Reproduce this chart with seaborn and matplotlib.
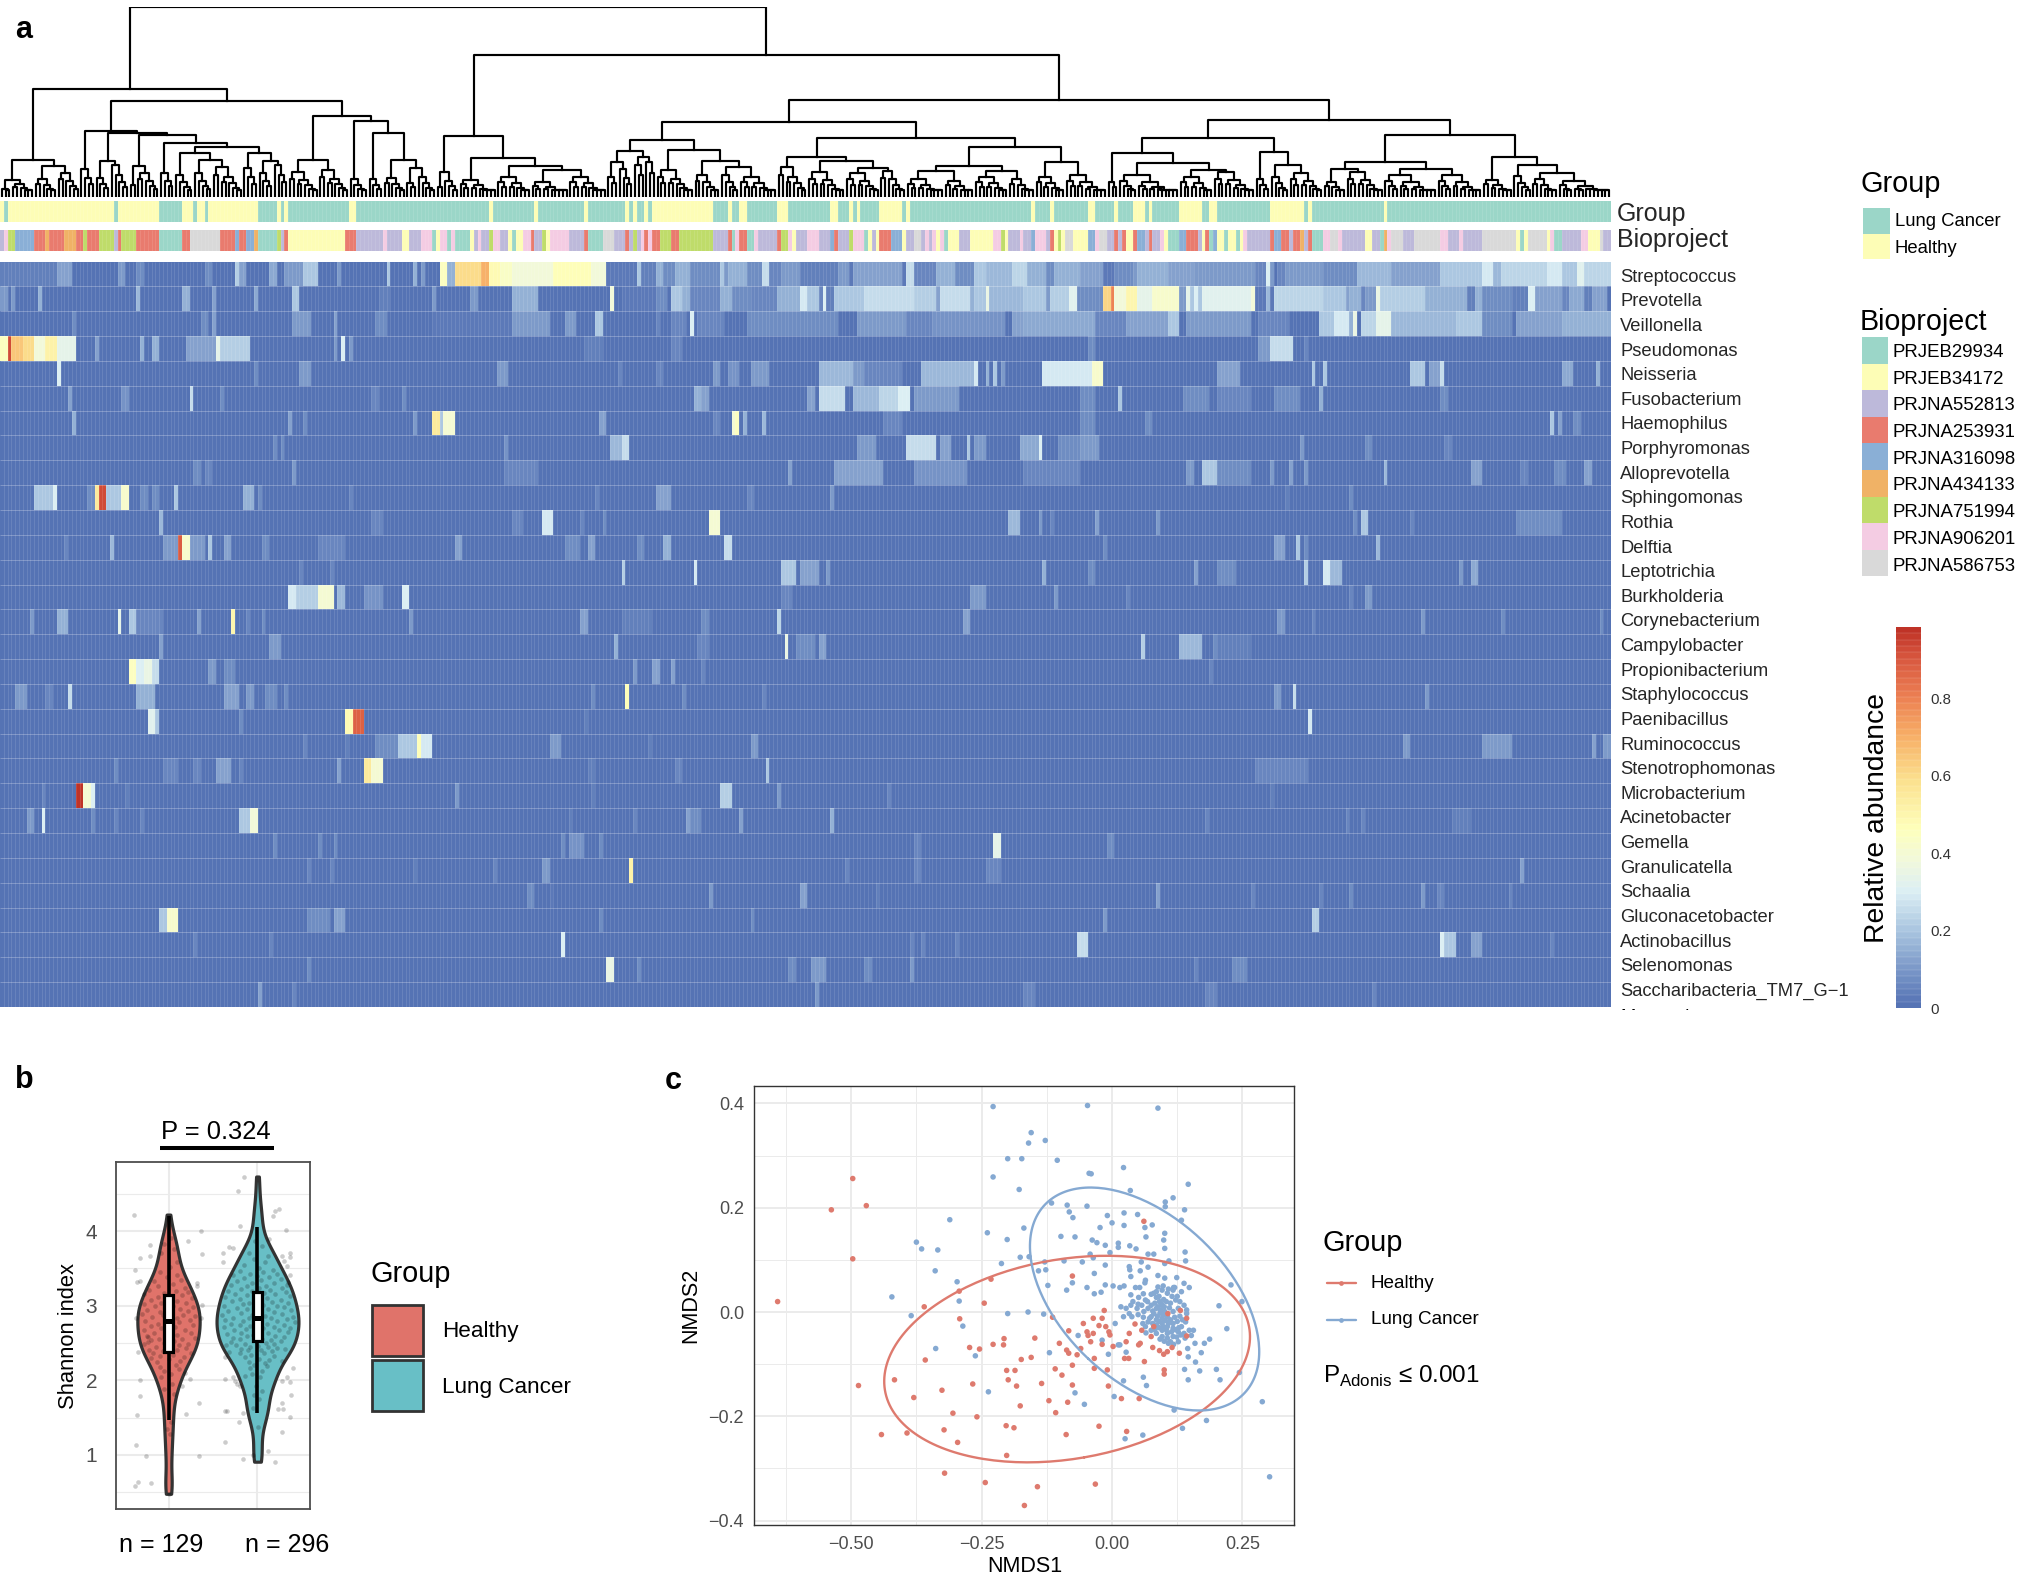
import numpy as np
import pandas as pd
import matplotlib
matplotlib.use('Agg')
import matplotlib.pyplot as plt
import seaborn as sns
from matplotlib.collections import LineCollection
from matplotlib.colors import LinearSegmentedColormap, ListedColormap
from matplotlib.patches import Rectangle

W, H = 2025, 1577
N_SAMPLES = 425

GENERA = ['Streptococcus', 'Prevotella', 'Veillonella', 'Pseudomonas', 'Neisseria', 'Fusobacterium',
          'Haemophilus', 'Porphyromonas', 'Alloprevotella', 'Sphingomonas', 'Rothia', 'Delftia',
          'Leptotrichia', 'Burkholderia', 'Corynebacterium', 'Campylobacter', 'Propionibacterium',
          'Staphylococcus', 'Paenibacillus', 'Ruminococcus', 'Stenotrophomonas', 'Microbacterium',
          'Acinetobacter', 'Gemella', 'Granulicatella', 'Schaalia', 'Gluconacetobacter',
          'Actinobacillus', 'Selenomonas', 'Saccharibacteria_TM7_G\u22121']

# abundance per genus as (first sample, end sample, relative abundance), everything else is near 0
STREPTOCOCCUS = [(0, 15, .04), (15, 19, .12), (31, 33, .1), (36, 38, .08), (54, 56, .08), (62, 63, .22), (63, 65, .12),
                 (71, 73, .14), (75, 80, .1), (80, 84, .2), (89, 90, .1), (102, 103, .2), (109, 110, .15), (111, 112, .1),
                 (116, 118, .45), (118, 120, .15), (120, 127, .6), (127, 129, .7), (129, 132, .48), (132, 135, .43),
                 (135, 146, .39), (146, 156, .46), (156, 160, .38), (160, 168, .03), (168, 169, .2), (169, 173, .04),
                 (173, 175, .15), (175, 178, .07), (178, 182, .15), (182, 190, .08), (190, 191, .2), (191, 192, .1),
                 (192, 197, .16), (197, 201, .08), (201, 203, .25), (203, 206, .05), (206, 211, .1), (211, 221, .04),
                 (221, 224, .1), (224, 225, .03), (225, 238, .13), (238, 239, .03), (239, 241, .25), (241, 247, .06),
                 (247, 252, .15), (252, 257, .08), (257, 260, .2), (260, 267, .17), (267, 271, .23), (271, 276, .15),
                 (276, 278, .08), (278, 285, .15), (285, 291, .13), (291, 294, .02), (294, 299, .08), (299, 300, .1),
                 (300, 308, .15), (308, 315, .12), (315, 331, .1), (331, 334, .05), (334, 335, .3), (335, 336, .1),
                 (336, 337, .0), (337, 339, .06), (339, 349, .1), (349, 358, .07), (358, 367, .17), (367, 380, .13),
                 (380, 391, .2), (391, 394, .28), (394, 396, .17), (396, 408, .23), (408, 412, .28), (412, 416, .2),
                 (416, 418, .32), (418, 425, .24)]
PREVOTELLA = [(0, 2, .1), (3, 4, .1), (10, 11, .15), (36, 37, .17), (48, 50, .15), (56, 57, .12), (67, 68, .14),
              (77, 79, .2), (100, 103, .04), (114, 115, .1), (124, 126, .1), (135, 142, .16), (161, 162, .38),
              (164, 173, .03), (173, 176, .08), (177, 180, .2), (180, 182, .15), (182, 190, .05), (190, 193, .15),
              (193, 198, .07), (198, 205, .05), (205, 211, .15), (211, 213, .28), (213, 216, .2), (216, 217, .06),
              (217, 218, .3), (218, 220, .04), (220, 228, .2), (228, 241, .25), (241, 247, .22), (247, 248, .12),
              (248, 256, .26), (256, 257, .15), (257, 260, .2), (260, 261, .35), (261, 270, .17), (270, 276, .2),
              (276, 277, .1), (277, 282, .22), (282, 284, .32), (284, 291, .07), (291, 293, .62), (293, 294, .8),
              (294, 297, .38), (297, 300, .5), (300, 304, .33), (304, 311, .42), (311, 313, .1), (313, 314, .33),
              (314, 315, .2), (315, 316, .3), (316, 317, .2), (317, 330, .32), (330, 331, .38), (331, 334, .03),
              (334, 335, .17), (335, 336, .03), (336, 349, .24), (349, 355, .2), (355, 356, .12), (356, 359, .15),
              (359, 360, .06), (360, 363, .1), (363, 364, .35), (364, 376, .22), (376, 387, .16), (387, 389, .04),
              (389, 391, .15), (391, 399, .07), (399, 403, .04), (403, 405, .3), (405, 412, .12), (412, 414, .05),
              (414, 418, .14), (418, 420, .04), (420, 424, .13)]
VEILLONELLA = [(19, 20, .08), (53, 55, .07), (56, 57, .12), (77, 82, .1), (88, 89, .12), (99, 102, .07), (114, 135, .03),
               (135, 145, .11), (149, 152, .1), (157, 159, .2), (173, 174, .05), (177, 181, .05), (182, 183, .3),
               (184, 191, .06), (197, 221, .08), (226, 239, .11), (239, 246, .05), (246, 265, .09), (267, 270, .13),
               (270, 289, .14), (289, 297, .05), (297, 308, .13), (308, 311, .2), (313, 330, .1), (332, 340, .06),
               (348, 352, .2), (352, 356, .28), (356, 357, .15), (357, 358, .35), (359, 363, .24), (363, 367, .33),
               (367, 384, .17), (384, 391, .21), (391, 399, .08), (400, 412, .13), (412, 425, .15)]
PSEUDOMONAS = [(0, 2, .45), (2, 3, .92), (3, 6, .65), (6, 9, .6), (9, 12, .38), (12, 15, .52), (15, 20, .33),
               (25, 26, .12), (37, 38, .15), (40, 42, .15), (49, 57, .12), (57, 58, .33), (58, 66, .22), (88, 89, .1),
               (90, 91, .3), (92, 93, .1), (154, 159, .04), (177, 180, .06), (287, 289, .07), (332, 335, .1),
               (335, 341, .25), (344, 345, .05)]
NEISSERIA = [(15, 16, .3), (67, 68, .08), (79, 82, .1), (131, 134, .1), (163, 164, .06), (173, 175, .06), (188, 190, .1),
             (192, 195, .09), (198, 203, .1), (216, 225, .17), (225, 228, .1), (228, 238, .05), (243, 257, .17),
             (257, 258, .28), (260, 261, .15), (262, 263, .2), (264, 265, .1), (275, 288, .28), (288, 291, .42),
             (321, 327, .13), (346, 347, .2), (349, 350, .2), (372, 376, .2), (377, 380, .12), (380, 381, .25),
             (412, 415, .14), (421, 422, .15)]
FUSOBACTERIUM = [(18, 19, .13), (32, 34, .09), (50, 51, .25), (58, 59, .08), (98, 100, .06), (106, 107, .08),
                 (183, 185, .15), (185, 187, .13), (213, 215, .13), (216, 223, .26), (225, 232, .18), (232, 237, .24),
                 (237, 240, .3), (241, 253, .1), (285, 289, .08), (295, 296, .2), (312, 319, .07), (321, 330, .05),
                 (336, 343, .07), (348, 349, .15), (380, 382, .07)]
HAEMOPHILUS = [(19, 20, .15), (76, 77, .13), (80, 81, .07), (109, 110, .1), (114, 116, .55), (116, 117, .2), (117, 120, .4),
               (158, 160, .12), (188, 190, .06), (193, 194, .4), (194, 195, .45), (196, 197, .15), (201, 202, .18),
               (233, 238, .05), (285, 289, .07), (302, 304, .07), (409, 410, .2), (411, 412, .12), (415, 417, .08)]
PORPHYROMONAS = [(72, 73, .08), (74, 75, .08), (133, 134, .09), (161, 164, .17), (164, 166, .26), (226, 231, .1),
                 (239, 247, .25), (248, 251, .13), (255, 256, .2), (257, 260, .1), (269, 274, .14), (274, 275, .3),
                 (279, 285, .08), (285, 290, .11), (343, 344, .1), (360, 362, .08), (381, 383, .05)]
ALLOPREVOTELLA = [(51, 53, .07), (54, 56, .05), (77, 78, .1), (133, 142, .05), (208, 209, .13), (220, 233, .13),
                  (241, 255, .09), (270, 285, .05), (313, 315, .1), (317, 321, .2), (321, 330, .07), (335, 336, .1),
                  (340, 341, .12), (344, 345, .1), (365, 366, .18), (388, 391, .12), (401, 403, .06), (410, 413, .08),
                  (418, 420, .12)]
SPHINGOMONAS = [(9, 14, .2), (14, 15, .3), (23, 25, .08), (25, 26, .55), (26, 28, .92), (28, 32, .2), (32, 34, .42),
                (37, 39, .07), (40, 42, .08), (46, 47, .2), (64, 67, .16), (68, 69, .08), (92, 93, .05), (157, 158, .05),
                (173, 177, .13), (197, 199, .05), (219, 220, .1), (339, 340, .04), (356, 357, .08)]
ROTHIA = [(42, 43, .18), (98, 101, .05), (135, 138, .05), (143, 146, .28), (153, 154, .05), (159, 160, .07),
          (187, 190, .4), (266, 269, .17), (274, 275, .1), (277, 278, .06), (289, 290, .12), (305, 306, .1),
          (357, 358, .07), (359, 361, .2), (372, 373, .06), (400, 412, .08)]
DELFTIA = [(17, 18, .06), (29, 30, .17), (43, 47, .1), (47, 48, .9), (48, 50, .42), (50, 54, .1), (55, 56, .2),
           (59, 61, .12), (69, 71, .08), (84, 91, .06), (120, 122, .12), (149, 153, .07), (155, 157, .12),
           (168, 170, .08), (175, 177, .15), (191, 193, .25), (291, 292, .08), (336, 339, .12), (342, 343, .2),
           (344, 345, .08), (363, 364, .18)]
LEPTOTRICHIA = [(79, 80, .05), (87, 88, .05), (164, 165, .22), (183, 184, .28), (206, 210, .2), (211, 216, .13),
                (218, 219, .1), (275, 276, .16), (287, 289, .08), (315, 316, .13), (321, 326, .07), (344, 345, .22),
                (349, 351, .28), (351, 354, .17), (385, 386, .1), (388, 390, .14)]
BURKHOLDERIA = [(76, 78, .28), (78, 84, .22), (84, 88, .4), (89, 91, .17), (96, 101, .09), (106, 108, .3), (206, 209, .05),
                (256, 260, .1), (278, 279, .1), (297, 298, .06), (356, 357, .06), (360, 362, .1)]
CORYNEBACTERIUM = [(8, 9, .1), (15, 18, .15), (31, 32, .33), (34, 36, .2), (36, 43, .06), (52, 53, .12), (61, 62, .5),
                   (65, 66, .06), (69, 70, .08), (108, 109, .1), (153, 155, .12), (164, 172, .04), (185, 187, .08),
                   (205, 206, .23), (254, 256, .12), (337, 339, .1), (346, 347, .05), (375, 376, .1), (396, 397, .08),
                   (422, 423, .08)]
CAMPYLOBACTER = [(42, 43, .12), (71, 74, .1), (162, 163, .15), (184, 187, .06), (207, 208, .35), (210, 215, .07),
                 (216, 218, .12), (301, 302, .22), (311, 317, .17), (320, 321, .08), (321, 330, .04)]
PROPIONIBACTERIUM = [(34, 36, .45), (36, 38, .3), (38, 40, .35), (40, 42, .25), (55, 57, .1), (59, 62, .08),
                     (167, 168, .1), (172, 174, .12), (177, 178, .12), (185, 186, .05), (319, 320, .05)]
STAPHYLOCOCCUS = [(4, 7, .1), (12, 14, .06), (18, 19, .25), (36, 41, .15), (59, 63, .13), (65, 67, .1), (70, 73, .07),
                  (75, 76, .07), (156, 157, .07), (165, 166, .46), (180, 181, .08), (201, 202, .05), (336, 338, .1),
                  (341, 342, .25), (376, 377, .1)]
PAENIBACILLUS = [(39, 41, .32), (41, 42, .2), (63, 64, .08), (91, 93, .48), (93, 96, .88), (154, 155, .04), (345, 346, .28)]
RUMINOCOCCUS = [(80, 81, .05), (91, 92, .04), (99, 105, .08), (105, 110, .2), (110, 111, .47), (111, 114, .28),
                (145, 148, .1), (171, 172, .04), (198, 200, .1), (370, 372, .1), (391, 399, .1), (420, 421, .12),
                (423, 425, .1)]
STENOTROPHOMONAS = [(30, 31, .07), (43, 47, .05), (51, 53, .06), (57, 61, .13), (63, 64, .06), (89, 90, .12),
                    (96, 98, .55), (98, 101, .4), (155, 157, .04), (178, 180, .05), (202, 203, .2), (331, 345, .05)]
MICROBACTERIUM = [(11, 12, .05), (20, 22, .98), (22, 24, .4), (24, 25, .3), (33, 34, .04), (120, 121, .1), (156, 157, .04),
                  (190, 193, .22), (205, 206, .1), (234, 235, .06), (335, 336, .04)]
ACINETOBACTER = [(7, 9, .1), (11, 12, .3), (24, 25, .07), (30, 31, .06), (37, 38, .05), (63, 66, .2), (66, 68, .38),
                 (150, 151, .04), (167, 168, .05), (181, 182, .12), (182, 185, .07), (195, 196, .12), (219, 220, .15),
                 (318, 319, .05), (355, 356, .06), (359, 360, .06), (383, 388, .04)]
GEMELLA = [(72, 73, .07), (84, 85, .08), (88, 89, .08), (148, 149, .08), (150, 154, .09), (158, 159, .07), (241, 243, .05),
           (262, 264, .33), (292, 294, .08)]
GRANULICATELLA = [(81, 82, .05), (87, 88, .05), (109, 110, .04), (130, 131, .06), (143, 145, .1), (166, 167, .52),
                  (223, 224, .05), (241, 243, .05), (260, 264, .05), (401, 402, .13)]
SCHAALIA = [(139, 141, .07), (145, 146, .03), (187, 188, .1), (211, 213, .12), (231, 232, .04), (305, 306, .12),
            (330, 331, .05), (348, 349, .06), (356, 357, .07), (375, 376, .1), (379, 381, .05), (398, 399, .06)]
GLUCONACETOBACTER = [(42, 44, .2), (44, 47, .42), (81, 87, .08), (88, 91, .12), (158, 159, .08), (198, 199, .08),
                     (291, 292, .1), (346, 348, .22)]
ACTINOBACILLUS = [(51, 52, .06), (71, 72, .06), (148, 149, .3), (240, 241, .05), (243, 244, .06), (252, 253, .06),
                  (284, 287, .26), (380, 381, .3), (381, 384, .2), (388, 391, .13), (409, 410, .06)]
SELENOMONAS = [(81, 82, .07), (160, 162, .35), (168, 169, .07), (208, 210, .07), (214, 218, .1), (228, 230, .07),
               (240, 241, .1), (315, 316, .05), (325, 329, .07)]
SACCHARIBACTERIA = [(68, 69, .12), (77, 78, .05), (215, 216, .1), (270, 273, .05), (318, 321, .05), (362, 363, .05)]

HEAT_ROWS = [STREPTOCOCCUS, PREVOTELLA, VEILLONELLA, PSEUDOMONAS, NEISSERIA, FUSOBACTERIUM, HAEMOPHILUS,
             PORPHYROMONAS, ALLOPREVOTELLA, SPHINGOMONAS, ROTHIA, DELFTIA, LEPTOTRICHIA, BURKHOLDERIA,
             CORYNEBACTERIUM, CAMPYLOBACTER, PROPIONIBACTERIUM, STAPHYLOCOCCUS, PAENIBACILLUS, RUMINOCOCCUS,
             STENOTROPHOMONAS, MICROBACTERIUM, ACINETOBACTER, GEMELLA, GRANULICATELLA, SCHAALIA,
             GLUCONACETOBACTER, ACTINOBACILLUS, SELENOMONAS, SACCHARIBACTERIA]

# samples where the group annotation flips, first sample is Healthy
GROUP_SWITCHES = [1, 2, 30, 31, 42, 48, 51, 52, 54, 55, 68, 73, 74, 75, 76, 92, 94, 129, 130, 141, 142, 154, 155, 165,
                  166, 167, 168, 170, 171, 172, 188, 192, 193, 195, 197, 205, 208, 219, 221, 224, 225, 226, 227, 232,
                  238, 239, 240, 272, 273, 277, 278, 287, 289, 294, 295, 299, 302, 303, 304, 311, 317, 319, 321, 335,
                  344, 345, 346, 365, 366]
BIOPROJECT_RUNS = ('C1 H1 G2 E5 D3 F1 D4 F3 D2 G1 D3 G4 C1 D1 G4 D6 A6 D2 I8 D4 E1 D2 E2 F1 A5 G1 C1 D1 B15 D3 C7 H1 C4 B2 '
                   'C3 H3 A1 B1 H2 A1 H1 A4 B1 C1 H1 C2 G1 H2 C2 B1 A1 B2 H2 D1 C1 '
                   'C1 G1 B1 H5 C4 D1 A4 I3 C3 D1 C1 G1 C1 H1 D1 H1 D2 G3 D2 G9 C4 D1 A1 H1 D2 A2 H1 C5 D1 G2 H1 B1 C3 '
                   'H3 C3 E1 D1 C3 G1 H3 A1 B1 C1 B1 D3 E3 B1 C2 I2 C1 H1 C1 H1 B1 H1 A1 B3 C3 B6 H2 G1 B1 C3 H1 C2 E1 '
                   'H3 C1 D1 B1 G1 B1 I2 B2 '
                   'B2 E2 H1 I2 C2 D1 C1 D1 B2 D1 E2 C1 D1 C2 H1 B1 A3 E2 D3 C1 B1 D1 A1 E1 B2 A1 B2 A1 B1 H1 C6 D1 E2 '
                   'D2 C1 D2 F1 C1 D1 A3 H2 I2 H1 C6 B2 C2 A1 F1 H1 I3 C3 I7 H2 C3 H1 C5 I9 B1 A1 B1 I5 B1 H1 A2 C5 H2 '
                   'B3 I1 C2')
BIOPROJECTS = ['PRJEB29934', 'PRJEB34172', 'PRJNA552813', 'PRJNA253931', 'PRJNA316098', 'PRJNA434133',
               'PRJNA751994', 'PRJNA906201', 'PRJNA586753']
BIOPROJECT_COLORS = ['#9bd6c8', '#fdfdb6', '#bdb9da', '#e97b6e', '#8aafd6', '#f0b266', '#bfdc6a', '#f4cce3', '#d9d9d9']
GROUP_COLORS = ['#fdfdb6', '#9bd6c8']

# dendrogram: (height, left, right) are merges, [height, n] are tight clusters of n samples
SUB_A = (37, (17, [8, 3], [13, 6]), (31, [18, 6], [24, 6]))
SUB_B1 = (66, [28, 4], (64, (36, [19, 4], [32, 5]), (62, (31, [12, 2], [24, 6]), (54, [24, 4],
          (50, (44, [22, 5], (37, [24, 5], [30, 8])), (44, [29, 4], (36, [24, 4], [32, 4])))))))
SUB_B2 = (81, (37, [25, 8], [27, 8]), (76, [18, 5], (64, [18, 4], (37, [19, 6], (29, [14, 3], [20, 5])))))
SUB_M = (61, (25, [10, 2], [16, 4]), (39, [17, 10], (31, [20, 9], (27, [15, 10], [20, 10]))))
SUB_P1 = (57, (46, (35, [20, 3], [28, 4]), (40, [32, 3], [35, 3])), (47, [27, 10], (36, [22, 7], [30, 15])))
SUB_P2 = (59, (40, [30, 8], (36, [25, 10], (29, [24, 9], [26, 7]))),
          (50, (31, (26, [18, 10], [16, 8]), (26, [20, 9], [18, 7])), (35, [20, 8], [22, 11])))
SUB_Q1 = (59, (44, [15, 3], (34, [22, 16], (27, [20, 9], [25, 11]))), (45, [18, 4], (32, [20, 5], [24, 9])))
SUB_Q2 = (62, (35, (28, [15, 6], [25, 10]), (28, [22, 14], [22, 12])), (40, [17, 8], (32, [21, 5], [24, 21])))
TREE = (190, (108, SUB_A, (96, SUB_B1, SUB_B2)),
        (142, SUB_M, (97, (75, SUB_P1, SUB_P2), (77, SUB_Q1, SUB_Q2))))

# panel b, each sample as (shannon index, horizontal jitter)
HEALTHY_POINTS = [(4.22, -.39), (4.0, .37), (3.87, .22), (3.81, -.21), (3.64, -.32), (3.66, -.21), (3.69, .38), (3.48, -.38),
                  (3.32, -.35), (3.33, -.32), (3.3, .32), (3.26, .32), (3.01, .38), (2.83, -.36), (2.84, .37), (2.58, -.23),
                  (2.51, -.23), (2.38, -.34), (2.0, -.32), (1.79, -.32), (2.02, .24), (2.1, .19), (1.93, .15), (1.7, .34),
                  (1.55, .2), (1.54, -.35), (1.14, -.36), (.99, -.25), (.99, .34), (.59, -.38), (.64, -.34), (.62, -.2),
                  (3.9, .03), (3.82, -.05), (3.76, .06), (3.7, -.08), (3.58, .09), (3.52, .02), (3.45, -.1), (3.41, .1),
                  (3.38, -.02), (3.35, .14), (3.33, -.16), (3.29, .05), (3.26, -.12), (3.24, .18), (3.21, -.22), (3.2, .08),
                  (3.18, .22), (3.17, -.05), (3.15, -.27), (3.14, .15), (3.12, -.12), (3.1, .26), (3.09, .02), (3.07, -.2),
                  (3.06, .1), (3.04, -.08), (3.03, .2), (3.02, -.28), (3.0, .05), (2.99, -.15), (2.98, .28), (2.97, -.02),
                  (2.95, .13), (2.94, -.24), (2.93, .22), (2.91, -.1), (2.9, .04), (2.89, -.3), (2.88, .16), (2.87, -.06),
                  (2.86, .3), (2.85, -.18), (2.84, .09), (2.83, -.02), (2.81, .24), (2.8, -.26), (2.78, .12), (2.76, -.12),
                  (2.75, .02), (2.74, .28), (2.73, -.2), (2.71, .07), (2.7, -.08), (2.68, .18), (2.67, -.28), (2.66, -.03),
                  (2.64, .25), (2.63, -.16), (2.61, .1), (2.6, -.24), (2.59, .01), (2.57, .3), (2.56, -.11), (2.55, .15),
                  (2.54, -.2), (2.52, .06), (2.5, -.05), (2.49, .22), (2.48, -.27), (2.47, .12), (2.45, -.14), (2.44, .03),
                  (2.43, .2), (2.41, -.22), (2.4, .1), (2.39, -.06), (2.37, .25), (2.36, -.17), (2.34, .05), (2.32, -.1),
                  (2.31, .17), (2.3, -.2), (2.28, .0), (2.26, .13), (2.24, -.13), (2.2, .08), (2.18, -.1), (2.15, .12),
                  (2.12, -.05), (2.08, .03), (2.05, -.08), (1.95, .04), (1.88, -.05), (1.82, .06), (1.44, .03), (1.35, -.02),
                  (1.28, .02), (.48, 0)]
CANCER_POINTS = [(4.73, -.15), (4.54, -.22), (4.27, .2), (4.29, .24), (4.2, .17), (4.07, -.2), (4.02, .32), (3.89, .13),
                 (3.78, -.32), (3.77, -.27), (3.71, -.39), (3.59, -.39), (3.71, .36), (3.65, .36), (3.66, .27), (3.6, .3),
                 (3.53, .33), (3.41, .37), (3.32, .34), (3.28, .33), (2.31, -.36), (2.47, -.35), (2.38, -.32), (2.02, -.37),
                 (1.99, -.25), (1.93, -.2), (1.95, -.23), (2.04, -.27), (2.06, -.14), (2.04, .33), (1.99, .28), (1.98, .37),
                 (2.17, .4), (2.26, .28), (2.42, .31), (1.8, .38), (1.69, .28), (1.62, .23), (1.62, .29), (1.51, .36),
                 (1.59, -.37), (1.59, -.34), (1.56, -.16), (1.63, -.05), (1.44, -.21), (1.31, .27), (1.17, -.37), (1.05, .12),
                 (.94, -.16), (1.0, -.05), (.91, .2),
                 (3.86, -.03), (3.8, .05), (3.7, -.1), (3.66, .12), (3.62, -.04), (3.58, .08), (3.55, -.15), (3.51, .02),
                 (3.48, .17), (3.47, -.2), (3.45, .06), (3.43, -.08), (3.42, .22), (3.41, -.27), (3.4, -.01), (3.38, .13),
                 (3.37, -.15), (3.36, .26), (3.35, .04), (3.33, -.23), (3.31, -.06), (3.3, .19), (3.28, -.3), (3.27, .1),
                 (3.26, -.12), (3.24, .28), (3.23, .02), (3.22, -.18), (3.21, .14), (3.2, -.33), (3.19, -.06), (3.18, .32),
                 (3.17, .07), (3.16, -.25), (3.15, .2), (3.14, -.12), (3.13, .36), (3.12, -.02), (3.11, -.36), (3.1, .11),
                 (3.09, -.2), (3.08, .26), (3.07, .03), (3.06, -.29), (3.05, .16), (3.04, -.09), (3.03, .34), (3.02, -.16),
                 (3.01, .06), (3.0, -.38), (2.99, .22), (2.98, -.04), (2.98, .3), (2.97, -.23), (2.96, .12), (2.95, -.12),
                 (2.94, .38), (2.93, -.33), (2.92, .02), (2.91, .18), (2.9, -.18), (2.89, .28), (2.88, -.4), (2.87, -.06),
                 (2.86, .08), (2.85, .4), (2.84, -.27), (2.84, .15), (2.83, -.1), (2.82, .33), (2.81, -.36), (2.8, .03),
                 (2.8, .22), (2.79, -.16), (2.78, .42), (2.77, -.03), (2.76, -.3), (2.75, .11), (2.74, .3), (2.74, -.2),
                 (2.73, -.08), (2.72, .18), (2.71, -.38), (2.7, .06), (2.7, .36), (2.69, -.13), (2.68, .24), (2.67, -.26),
                 (2.66, .01), (2.65, .34), (2.64, -.18), (2.63, .12), (2.62, -.34), (2.61, -.05), (2.6, .2), (2.59, -.12),
                 (2.58, .3), (2.57, -.28), (2.56, .05), (2.55, -.2), (2.54, .15), (2.53, -.02), (2.52, .26), (2.51, -.3),
                 (2.5, .09), (2.49, -.14), (2.48, .19), (2.47, -.24), (2.46, .01), (2.45, .12), (2.44, -.08), (2.43, .22),
                 (2.42, -.18), (2.41, .04), (2.4, -.11), (2.39, .16), (2.37, -.2), (2.36, .07), (2.34, -.07), (2.32, .18),
                 (2.31, -.14), (2.29, .02), (2.27, .13), (2.25, -.1), (2.23, .08), (2.21, -.04), (2.19, .11), (2.17, -.08),
                 (2.13, .05), (2.09, -.06), (2.05, .03), (1.92, -.02), (1.86, .05), (1.8, -.04), (1.75, .02), (1.38, .01)]
# box summaries: whisker low, q1, median, q3, whisker high
HEALTHY_BOX = [1.47, 2.38, 2.8, 3.14, 4.2]
CANCER_BOX = [1.56, 2.52, 2.83, 3.18, 4.05]

# panel c, NMDS scores as (NMDS1, NMDS2)
NMDS_HEALTHY = [(-.641, .02), (-.497, .256), (-.538, .196), (-.471, .204), (-.497, .102), (-.232, .063), (-.293, .04),
                (-.245, .017), (-.36, .01), (-.292, -.013), (-.076, .069), (-.207, -.051), (-.148, -.05), (-.208, -.063),
                (-.228, -.062), (-.273, -.068), (-.254, -.071), (-.358, -.092), (-.417, -.13), (-.486, -.141), (-.326, -.15),
                (-.38, -.164), (-.267, -.138), (-.202, -.112), (-.186, -.112), (-.199, -.13), (-.183, -.142), (-.174, -.091),
                (-.155, -.087), (-.135, -.137), (-.109, -.109), (-.096, -.121), (-.076, -.102), (-.076, -.14), (-.176, -.18),
                (-.121, -.17), (-.085, -.173), (-.108, -.193), (-.305, -.194), (-.259, -.201), (-.203, -.218), (-.188, -.222),
                (-.322, -.226), (-.442, -.235), (-.393, -.232), (-.296, -.25), (-.202, -.275), (-.321, -.309), (-.243, -.327),
                (-.143, -.335), (-.168, -.371), (-.032, -.33), (-.025, -.219), (-.088, -.235), (.028, -.229), (.018, -.166),
                (.052, -.166), (-.007, -.142), (.1, -.111), (.1, -.119), (.062, -.095), (.024, -.089), (.032, -.089),
                (-.034, -.089), (-.114, -.01), (-.055, -.022), (-.083, -.036), (-.019, -.012), (-.025, -.026), (-.012, -.028),
                (-.036, -.041), (-.048, -.038), (-.046, -.045), (-.006, -.038), (-.004, -.044), (.033, -.041), (.044, -.023),
                (.057, -.035), (.08, -.028), (.075, -.047), (-.015, .003), (-.036, -.012), (-.101, -.06), (-.087, -.073),
                (-.083, -.079), (-.067, -.082), (-.06, -.07), (-.041, -.057), (-.019, -.062), (.002, -.066), (.027, -.057),
                (.054, -.06), (.051, -.063), (.078, -.068), (.091, -.074), (.099, -.081), (.106, -.076), (.115, -.068),
                (.129, -.079), (.143, -.046), (.131, .003), (.107, -.003), (.143, -.012), (.061, .174), (-.034, -.108),
                (-.009, -.111)]
NMDS_CANCER = [(-.228, .394), (-.047, .396), (.088, .391), (-.155, .344), (-.16, .324), (-.128, .329), (-.2, .294), (-.173, .294),
               (-.105, .291), (.022, .277), (-.228, .259), (-.044, .266), (-.04, .265), (-.178, .235), (.035, .233), (.146, .245),
               (.117, .219), (.102, .211), (.102, .202), (.139, .196), (-.116, .209), (-.086, .205), (-.048, .203), (-.082, .192),
               (-.075, .181), (-.009, .185), (.023, .19), (.049, .187), (.133, .176), (-.311, .177), (-.169, .161), (-.239, .152),
               (-.201, .139), (-.375, .134), (-.365, .121), (-.334, .119), (-.098, .145), (-.071, .144), (-.023, .162), (0, .171),
               (.023, .166), (.077, .167), (.063, .162), (.065, .144), (.101, .151), (.099, .138), (-.038, .138), (-.029, .133),
               (-.013, .128), (.012, .132), (.012, .124), (.034, .127), (.046, .121), (.101, .122), (-.042, .111), (-.004, .114),
               (-.036, .104), (-.176, .105), (-.159, .106), (-.212, .093), (-.129, .096), (-.092, .098), (-.057, .096), (-.013, .09),
               (.069, .111), (.08, .111), (.14, .115), (.141, .098), (.056, .096), (.101, .093), (.109, .098), (-.339, .079),
               (-.141, .079), (-.127, .081), (.033, .087), (.034, .081), (.054, .079), (.069, .086), (.088, .07), (.101, .065),
               (.124, .066), (-.297, .058), (-.076, .056), (-.034, .074), (-.123, .051), (-.087, .042), (-.048, .047), (-.034, .035),
               (-.021, .038), (-.013, .052), (.002, .05), (.015, .047), (.023, .05), (.045, .047), (.053, .047), (.064, .061),
               (.036, .068), (.063, .056), (.138, .055), (.148, .047), (.118, .047), (.228, .052), (-.422, .029), (-.293, .021),
               (-.385, -.007), (-.2, -.003), (-.161, 0), (-.131, -.004), (-.286, -.027), (-.338, -.07), (-.262, -.084), (-.237, -.153),
               (-.071, -.155), (-.053, -.177), (.004, -.162), (-.12, -.078), (-.065, -.045), (.205, .012), (.22, -.032), (.187, -.052),
               (.177, -.06), (.171, -.078), (.16, -.096), (.168, -.113), (.2, -.11), (.207, -.13), (.244, -.116), (.139, -.11),
               (.146, -.13), (.066, -.141), (.06, -.125), (.022, -.132), (.027, -.077), (-.007, -.081), (-.019, -.054), (.012, -.063),
               (.288, -.172), (.302, -.316), (.181, -.208), (.135, -.223), (.119, -.188), (.059, -.236), (.025, -.243), (.249, .02),
               (.08, .036), (.085, .028), (.091, .02), (.099, .024), (.075, .013), (.085, .007), (.093, .004), (.101, .001), (.08, -.003),
               (.069, .007), (.057, .013), (.048, .007), (.036, .013), (.027, .007), (.033, -.003), (.038, -.009), (.061, .001),
               (.075, -.009), (.085, -.015), (.096, -.012), (.106, -.009), (.117, .001), (.127, .007), (.138, .013), (.143, .004),
               (.117, .042), (.12, .047), (.106, .036), (.096, .042), (.085, .039), (.133, .039), (.036, .033), (.051, .028),
               (.064, .023), (.096, .013), (.112, .017), (.122, .023), (.143, -.003), (.141, -.019), (.133, -.028), (.148, -.035),
               (.156, -.035), (.138, -.041), (.127, -.038), (.117, -.031), (.106, -.028), (.096, -.035), (.085, -.041), (.106, -.041),
               (.117, -.047), (.127, -.057), (.106, -.05), (.096, -.047), (.112, -.057), (.085, -.025), (.117, -.022), (.096, -.022),
               (.069, -.019), (.059, -.022), (.064, -.028), (.075, -.035), (.017, .01), (.022, -.009), (.006, -.022), (.015, -.063),
               (.145, -.07), (.146, -.086), (.159, -.06),
               (.09, .03), (.095, .015), (.088, .01), (.082, .017), (.104, .02), (.11, .008), (.1, .01), (.092, -.002), (.098, -.006),
               (.087, -.008), (.078, .002), (.072, -.012), (.09, -.018), (.102, -.016), (.112, -.015), (.108, -.022), (.12, -.01),
               (.125, -.018), (.13, -.008), (.135, -.015), (.128, -.03), (.122, -.034), (.114, -.038), (.104, -.034), (.098, -.028),
               (.09, -.03), (.082, -.034), (.078, -.022), (.092, -.052), (.1, -.056), (.108, -.06), (.118, -.062), (.124, -.048),
               (.132, -.044), (.14, -.05), (.152, -.045), (.13, .02), (.125, .03), (.115, .03), (.108, .044), (.098, .05), (.088, .048),
               (.075, .034), (.068, .02), (.06, .035), (.05, .015), (.04, .02), (.06, -.01), (.05, -.005), (.065, -.04)]

VIOLIN_COLORS = ['#e0736a', '#68bfc6']
VIOLIN_WIDTHS = [.7, .92]
NMDS_COLORS = ['#de7a6e', '#85a9d2']


def px_axes(fig, x0, y0, x1, y1, **kwargs):
    # axes from picture pixels, y counted from the top
    return fig.add_axes([x0 / W, 1 - y1 / H, (x1 - x0) / W, (y1 - y0) / H], **kwargs)


def build_heat():
    matrix = np.full((len(HEAT_ROWS), N_SAMPLES), .012)
    for i, runs in enumerate(HEAT_ROWS):
        for start, end, value in runs:
            matrix[i, start:end] = value
    return matrix


def build_group():
    codes = np.zeros(N_SAMPLES, dtype=int)
    for i, start in enumerate(GROUP_SWITCHES):
        codes[start:] = (i + 1) % 2
    return codes


def build_bioproject():
    codes = []
    for token in BIOPROJECT_RUNS.split():
        codes += ['ABCDEFGHI'.index(token[0])] * int(token[1:])
    return np.array(codes[:N_SAMPLES])


def cluster_segments(height, n, start, segments):
    # tight clusters are small ladders down to the leaves
    if n == 1:
        return start + .5, 0
    if n == 2:
        left, right = (start + .5, 0), (start + 1.5, 0)
    else:
        n_left = max(1, n // 3)
        child = max(height * .74, 8)
        left = cluster_segments(child, n_left, start, segments)
        right = cluster_segments(child * .92, n - n_left, start + n_left, segments)
    segments.append([(left[0], left[1]), (left[0], height), (right[0], height), (right[0], right[1])])
    return (left[0] + right[0]) / 2, height


def tree_segments(node, start, segments):
    # returns x, height and how many samples the branch holds
    if isinstance(node, list):
        x, h = cluster_segments(node[0], node[1], start, segments)
        return x, h, node[1]
    lx, lh, ln = tree_segments(node[1], start, segments)
    rx, rh, rn = tree_segments(node[2], start + ln, segments)
    segments.append([(lx, lh), (lx, node[0]), (rx, node[0]), (rx, rh)])
    return (lx + rx) / 2, node[0], ln + rn


def plot_heatmap_panel(fig, canvas):
    dendro = px_axes(fig, 0, 7, 1611, 197)
    segments = []
    tree_segments(TREE, 0, segments)
    dendro.add_collection(LineCollection(segments, colors='black', linewidths=1.55, capstyle='projecting'))
    dendro.set_xlim(0, N_SAMPLES)
    dendro.set_ylim(0, 190)
    dendro.axis('off')

    group_ax = px_axes(fig, 0, 201, 1611, 222)
    sns.heatmap(build_group()[None, :], ax=group_ax, cmap=ListedColormap(GROUP_COLORS), vmin=0, vmax=1, cbar=False,
                xticklabels=False, yticklabels=['Group'])
    bio_ax = px_axes(fig, 0, 230, 1611, 251)
    sns.heatmap(build_bioproject()[None, :], ax=bio_ax, cmap=ListedColormap(BIOPROJECT_COLORS), vmin=0, vmax=8, cbar=False,
                xticklabels=False, yticklabels=['Bioproject'])
    bio_ax.set_yticks([.38], ['Bioproject'])
    for ax in (group_ax, bio_ax):
        ax.vlines(range(1, N_SAMPLES), 0, 1, color='white', alpha=.12, lw=.6)
        ax.yaxis.tick_right()
        ax.tick_params(axis='y', length=0, pad=4.5, labelsize=18, labelrotation=0)

    cmap = LinearSegmentedColormap.from_list(
        'abundance',
        [(0, '#5573b4'), (.1, '#7c99c9'), (.2, '#aac6e0'), (.3, '#dbeef4'), (.38, '#f0f8dd'), (.47, '#feffbb'),
         (.6, '#fbe08e'), (.72, '#f7ae66'), (.82, '#ec8053'), (.92, '#d95940'), (1, '#bf3327')], N=60)
    heat_ax = px_axes(fig, 0, 261.5, 1611, 1007)
    cax = px_axes(fig, 1896, 627, 1921, 1008)
    sns.heatmap(build_heat(), ax=heat_ax, cbar_ax=cax, cmap=cmap, vmin=0, vmax=.985, xticklabels=False, yticklabels=GENERA,
                cbar_kws={'ticks': [0, .2, .4, .6, .8], 'drawedges': True})
    heat_ax.vlines(range(1, N_SAMPLES), 0, len(GENERA), color='white', alpha=.13, lw=.6)
    heat_ax.hlines(range(1, len(GENERA)), 0, N_SAMPLES, color='white', alpha=.3, lw=.6)
    heat_ax.yaxis.tick_right()
    # the labels run a little tighter than the rows
    heat_ax.set_yticks([.552 + .991 * i for i in range(len(GENERA))])
    heat_ax.set_yticklabels(GENERA)
    heat_ax.tick_params(axis='y', length=0, pad=6.5, labelsize=13.2, labelrotation=0)
    colorbar = heat_ax.collections[0].colorbar
    colorbar.dividers.set_color('#ffffff')
    colorbar.dividers.set_linewidth(.25)
    colorbar.dividers.set_alpha(.4)
    colorbar.outline.set_visible(False)
    cax.set_yticklabels(['0', '0.2', '0.4', '0.6', '0.8'])
    cax.tick_params(length=0, labelsize=10.8, labelcolor='#333333', pad=7)

    # the next genus label is cut off by the panel in the original
    cut = canvas.text(1620, 1017, 'Megasphaera', fontsize=13.2, va='center', ha='left')
    cut.set_clip_on(True)
    cut.set_clip_path(Rectangle((1600, 1000), 300, 10, transform=canvas.transData))

    canvas.text(15, 30, 'a', fontsize=22, fontweight='bold', va='center')
    canvas.text(1860, 184, 'Group', fontsize=20.8, va='center')
    for i, (name, color) in enumerate(zip(['Lung Cancer', 'Healthy'], GROUP_COLORS[::-1])):
        canvas.add_patch(Rectangle((1863, 208 + i * 25.5), 27, 25.5, color=color, lw=0))
        canvas.text(1895, 221.5 + i * 27, name, fontsize=13.3, va='center')
    canvas.text(1860, 321.5, 'Bioproject', fontsize=20.6, va='center')
    for i, (name, color) in enumerate(zip(BIOPROJECTS, BIOPROJECT_COLORS)):
        canvas.add_patch(Rectangle((1862, 337 + i * 26.6), 26, 26.6, color=color, lw=0))
        canvas.text(1893, 352.5 + i * 26.7, name, fontsize=13.4, va='center')
    canvas.text(1877, 818, 'Relative abundance', fontsize=20.3, rotation=90, va='center', ha='center')


def plot_violin_panel(fig, canvas):
    ax = px_axes(fig, 116, 1161.6, 310, 1509)
    rows = [('Healthy', y, 0 + j) for y, j in HEALTHY_POINTS] + [('Lung Cancer', y, 1 + j) for y, j in CANCER_POINTS]
    data = pd.DataFrame(rows, columns=['group', 'shannon', 'jitter_x'])
    order = ['Healthy', 'Lung Cancer']
    palette = dict(zip(order, VIOLIN_COLORS))

    # one call per group, the healthy violin is drawn narrower than the cancer one
    for name, width in zip(order, VIOLIN_WIDTHS):
        sns.violinplot(data=data[data['group'] == name], x='group', y='shannon', order=order, color=palette[name],
                       saturation=1, inner=None, cut=0, bw_adjust=.72, density_norm='width', width=width,
                       linewidth=2.3, linecolor='#333333', ax=ax)
    sns.scatterplot(data=data, x='jitter_x', y='shannon', color='black', alpha=.2, s=11, linewidth=0, zorder=3, ax=ax)
    stats = [dict(zip(['whislo', 'q1', 'med', 'q3', 'whishi'], box), fliers=[]) for box in (HEALTHY_BOX, CANCER_BOX)]
    ax.bxp(stats, positions=[0, 1], widths=.107, showfliers=False, showcaps=False, patch_artist=True, manage_ticks=False,
           boxprops={'facecolor': 'white', 'edgecolor': 'black', 'linewidth': 2.3}, zorder=5,
           medianprops={'color': 'black', 'linewidth': 3.6, 'solid_capstyle': 'butt'},
           whiskerprops={'color': 'black', 'linewidth': 2.6, 'solid_capstyle': 'butt'})

    ax.set_xlim(-.59, 1.59)
    ax.set_ylim(.276, 4.93)
    ax.set_xticks([0, 1])
    ax.set_xticklabels([])
    ax.set_yticks([1, 2, 3, 4])
    ax.set_yticks([.5, 1.5, 2.5, 3.5, 4.5], minor=True)
    ax.grid(True, which='major', color='#ebebeb', lw=1.5)
    ax.grid(True, which='minor', axis='y', color='#ebebeb', lw=.8)
    ax.set_axisbelow(True)
    ax.tick_params(which='major', length=6.5, width=1.8, color='#333333', labelsize=15, labelcolor='#4d4d4d', pad=7)
    ax.tick_params(which='minor', length=0)
    ax.set_xlabel('')
    ax.set_ylabel('')
    for spine in ax.spines.values():
        spine.set_visible(True)
        spine.set_color('#4d4d4d')
        spine.set_linewidth(1.3)

    canvas.text(69, 1336, 'Shannon index', fontsize=15.8, rotation=90, va='center', ha='center')
    canvas.text(161, 1545, 'n = 129', fontsize=18, ha='center', va='center')
    canvas.text(287, 1545, 'n = 296', fontsize=18, ha='center', va='center')
    canvas.text(216, 1132, 'P = 0.324', fontsize=18.4, ha='center', va='center')
    canvas.plot([160, 274], [1148, 1148], color='black', lw=2.9, solid_capstyle='butt')
    canvas.text(15, 1080, 'b', fontsize=22, fontweight='bold', va='center')
    canvas.text(370, 1274, 'Group', fontsize=20.8, va='center')
    for i, (name, color) in enumerate(palette.items()):
        canvas.add_patch(Rectangle((372, 1305 + i * 54.5), 51, 51, facecolor=color, edgecolor='#333333', lw=2))
        canvas.text(442, 1332 + i * 56, name, fontsize=16.2, va='center')


def group_ellipse(points, level=2.466, nu=5):
    # stat_ellipse style: multivariate t fit of the scores, level is sqrt(2 * F(.95, 2, n - 1))
    xy = np.array(points)
    loc, cov = xy.mean(axis=0), np.cov(xy.T)
    for _ in range(50):
        diff = xy - loc
        dist = np.sum(diff @ np.linalg.inv(cov) * diff, axis=1)
        weight = (nu + 2) / (nu + dist)
        loc = (weight[:, None] * xy).sum(axis=0) / weight.sum()
        diff = xy - loc
        cov = (weight[:, None] * diff).T @ diff / len(xy)
    values, vectors = np.linalg.eigh(cov)
    angle = np.linspace(0, 2 * np.pi, 200)
    unit = np.c_[np.cos(angle), np.sin(angle)]
    return loc + level * (unit * np.sqrt(values)) @ vectors.T


def plot_nmds_panel(fig, canvas):
    ax = px_axes(fig, 754.3, 1085.7, 1293.6, 1525.3)
    rows = [('Healthy', x, y) for x, y in NMDS_HEALTHY] + [('Lung Cancer', x, y) for x, y in NMDS_CANCER]
    data = pd.DataFrame(rows, columns=['group', 'NMDS1', 'NMDS2'])
    palette = dict(zip(['Healthy', 'Lung Cancer'], NMDS_COLORS))
    sns.scatterplot(data=data[::-1], x='NMDS1', y='NMDS2', hue='group', palette=palette, s=16, linewidth=0, legend=False,
                    zorder=3, ax=ax)
    for points, color in ((NMDS_HEALTHY, NMDS_COLORS[0]), (NMDS_CANCER, NMDS_COLORS[1])):
        outline = group_ellipse(points)
        ax.plot(outline[:, 0], outline[:, 1], color=color, lw=1.7, zorder=4)

    ax.set_xlim(-.6857, .348)
    ax.set_ylim(-.409, .434)
    ax.set_xticks([-.5, -.25, 0, .25])
    ax.set_xticklabels(['\u22120.50', '\u22120.25', '0.00', '0.25'])
    ax.set_yticks([-.4, -.2, 0, .2, .4])
    ax.set_yticklabels(['\u22120.4', '\u22120.2', '0.0', '0.2', '0.4'])
    ax.set_xticks([-.625, -.375, -.125, .125], minor=True)
    ax.set_yticks([-.3, -.1, .1, .3], minor=True)
    ax.grid(True, which='major', color='#ebebeb', lw=1.4)
    ax.grid(True, which='minor', color='#ebebeb', lw=.7)
    ax.set_axisbelow(True)
    ax.tick_params(which='major', length=4.5, width=1, color='#333333', labelsize=13, labelcolor='#4d4d4d', pad=3)
    ax.tick_params(which='minor', length=0)
    ax.set_xlabel('')
    ax.set_ylabel('')
    for spine in ax.spines.values():
        spine.set_visible(True)
        spine.set_color('#333333')
        spine.set_linewidth(1)

    canvas.text(1025, 1567, 'NMDS1', fontsize=15.5, ha='center', va='center')
    canvas.text(691, 1305.7, 'NMDS2', fontsize=15.5, rotation=90, ha='center', va='center')
    canvas.text(665, 1081, 'c', fontsize=22, fontweight='bold', va='center')
    canvas.text(1322, 1243, 'Group', fontsize=20.8, va='center')
    for i, (name, color) in enumerate(palette.items()):
        y = 1283 + i * 36.5
        canvas.plot([1326.5, 1355.5], [y, y], color=color, lw=1.7)
        canvas.plot([1341], [y], 'o', color=color, ms=3.4, mew=0)
        canvas.text(1371, y + .5, name, fontsize=13.6, va='center')
    canvas.text(1323, 1376, 'P$_{\\mathregular{Adonis}}$ \u2264 0.001', fontsize=17.4, va='center')


def main():
    sns.set_theme(style='white')
    plt.rcParams['font.family'] = ['Liberation Sans', 'DejaVu Sans']
    plt.rcParams['mathtext.fontset'] = 'custom'
    plt.rcParams['mathtext.rm'] = 'Liberation Sans'
    plt.rcParams['text.color'] = 'black'

    fig = plt.figure(figsize=(W / 100, H / 100), dpi=100, facecolor='white')
    canvas = fig.add_axes([0, 0, 1, 1], zorder=10)
    canvas.set_xlim(0, W)
    canvas.set_ylim(H, 0)
    canvas.axis('off')

    plot_heatmap_panel(fig, canvas)
    plot_violin_panel(fig, canvas)
    plot_nmds_panel(fig, canvas)
    fig.savefig('out.png', dpi=100)


if __name__ == '__main__':
    main()
